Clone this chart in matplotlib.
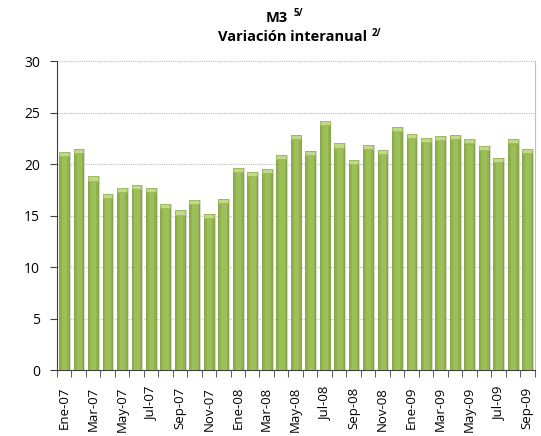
import numpy as np
import matplotlib.pyplot as plt

plt.rcParams['font.family'] = ['Open Sans', 'DejaVu Sans']

# meses (Ene-07 .. Sep-09)
meses = ['Ene-07', 'Feb-07', 'Mar-07', 'Abr-07', 'May-07', 'Jun-07', 'Jul-07', 'Ago-07',
         'Sep-07', 'Oct-07', 'Nov-07', 'Dic-07',
         'Ene-08', 'Feb-08', 'Mar-08', 'Abr-08', 'May-08', 'Jun-08', 'Jul-08', 'Ago-08',
         'Sep-08', 'Oct-08', 'Nov-08', 'Dic-08',
         'Ene-09', 'Feb-09', 'Mar-09', 'Abr-09', 'May-09', 'Jun-09', 'Jul-09', 'Ago-09',
         'Sep-09']
# variacion interanual M3 (%)
variacion = [21.2, 21.5, 18.8, 17.1, 17.7, 18.0, 17.7, 16.1, 15.5, 16.5, 15.2, 16.6,
             19.6, 19.2, 19.5, 20.9, 22.8, 21.3, 24.2, 22.0, 20.4, 21.9, 21.4, 23.6,
             22.9, 22.5, 22.7, 22.8, 22.4, 21.8, 20.6, 22.4, 21.5]
yticks = [0, 5, 10, 15, 20, 25, 30]

x = np.arange(len(meses))
vals = np.array(variacion)

W, H = 541, 436
fig = plt.figure(figsize=(W / 100, H / 100), dpi=100)
ax = fig.add_axes([0.105, 0.151, 0.883, 0.709])

# grid
for t in yticks[1:]:
    ax.axhline(t, color='#bdbdbd', lw=0.8, ls=(0, (1, 1)), zorder=0)

w = 0.68
# sombra
ax.bar(x + 0.13, vals, width=w, color='#cfcfca', alpha=0.8, zorder=1)
# barras
ax.bar(x, vals, width=w, color='#8fb24b', edgecolor='#7d9d3e', lw=0.6, zorder=2)
ax.bar(x + 0.05, vals - 0.5, width=w * 0.55, color='#9dbf59', lw=0, zorder=3)
# brillo arriba
ax.bar(x, np.full(len(x), 0.4), bottom=vals - 0.4, width=w, color='#c2d98a',
       edgecolor='#9cbc5a', lw=0.5, zorder=4)

ax.set_xlim(-0.5, len(x) - 0.5)
ax.set_ylim(0, 30)
ax.set_yticks(yticks)
ax.set_yticklabels([str(t) for t in yticks], fontsize=10)

ax.set_xticks(x[::2])
ax.set_xticklabels(meses[::2], rotation=90, fontsize=9.5)
ax.set_xticks(np.arange(-0.5, len(x)), minor=True)
ax.tick_params(axis='x', which='major', length=0, pad=12)
ax.tick_params(axis='x', which='minor', length=5, color='#404040')
ax.tick_params(axis='y', length=5, color='#404040', pad=7)

ax.spines['top'].set_visible(False)
ax.spines['right'].set_color('#c0c0c0')
ax.spines['left'].set_color('#404040')
ax.spines['bottom'].set_color('#404040')


# titulo: texto principal + superindice pegado a la derecha
def titulo(txt, sup, x0, yc):
    t = fig.text(x0 / W, 1 - yc / H, txt, ha='left', va='center', fontsize=10.5,
                 fontweight='bold')
    fig.canvas.draw()
    bb = t.get_window_extent()
    fig.text((bb.x1 + 5) / W, 1 - (yc - 4) / H, sup, ha='left', va='center',
             fontsize=7, fontweight='bold')


titulo('M3', '5/', 266, 18)
titulo('Variación interanual', '2/', 218, 37)

fig.savefig('out.png', dpi=100)
